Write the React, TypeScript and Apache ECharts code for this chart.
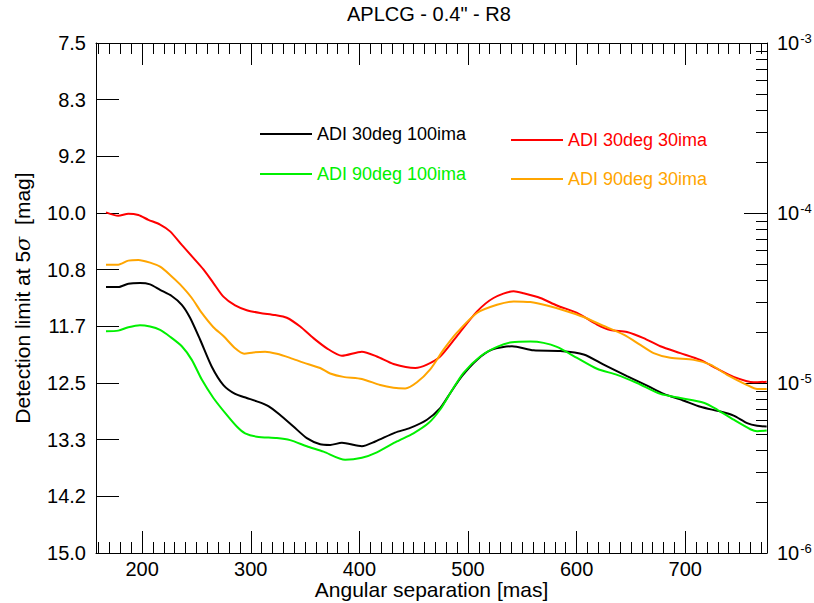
import React, { useEffect, useRef } from "react";
import * as echarts from "echarts";

const TITLE = 'APLCG - 0.4" - R8';
const X_NAME = "Angular separation [mas]";
const FONT = "'Liberation Sans', Arial, Helvetica, sans-serif";

const X_MIN = 157.5;
const X_MAX = 775.3;
const X_MAJOR_TICKS = [200, 300, 400, 500, 600, 700];
const X_MINOR_TICKS = Array.from({ length: 62 }, (_, i) => 160 + i * 10);

const MAG_MIN = 7.5;
const MAG_MAX = 15;
const MAG_TICKS = Array.from({ length: 10 }, (_, i) => MAG_MIN + (i * (MAG_MAX - MAG_MIN)) / 9);

// right axis: contrast 10^-3 ... 10^-6 (mag = -2.5 log10(contrast))
const CONTRAST_DECADES = [-3, -4, -5, -6];
const CONTRAST_MINOR_FACTORS = [2, 3, 4, 5, 6, 7, 8, 9];
const toMag = (c: number) => -2.5 * Math.log10(c);
const CONTRAST_MAJOR_MAGS = CONTRAST_DECADES.map((e) => toMag(Math.pow(10, e)));
const CONTRAST_MINOR_MAGS = [-4, -5, -6].flatMap((e) =>
  CONTRAST_MINOR_FACTORS.map((k) => toMag(k * Math.pow(10, e)))
);

const NAMES = ["ADI 30deg 100ima", "ADI 90deg 100ima", "ADI 30deg 30ima", "ADI 90deg 30ima"];
const COLORS = ["#000000", "#00f000", "#ff0000", "#ffa500"];

const BLACK_30DEG_100IMA: [number, number][] = [
  [166.7, 11.09], [178, 11.09], [187.3, 11.04], [198, 11.03], [207.3, 11.05], [216.5, 11.13],
  [227.2, 11.22], [236.5, 11.35], [244.1, 11.54], [253.3, 11.86], [264.1, 12.26], [274.8, 12.53],
  [285.6, 12.66], [296.3, 12.72], [305.6, 12.77], [316.2, 12.84], [327, 12.97], [339.3, 13.14],
  [351.6, 13.31], [363.9, 13.4], [373.1, 13.41], [383.9, 13.38], [402.3, 13.43], [414.6, 13.36],
  [432.9, 13.23], [446.8, 13.16], [462.2, 13.04], [474.4, 12.87], [483.6, 12.65], [494.4, 12.4],
  [508.2, 12.16], [522.1, 12.01], [540.5, 11.96], [560.4, 12.02], [585, 12.03], [606.5, 12.08],
  [624.9, 12.23], [646.4, 12.4], [664.9, 12.54], [680.2, 12.66], [697.1, 12.75], [714, 12.85],
  [732.4, 12.92], [744.6, 12.98], [757, 13.09], [766.2, 13.13], [775, 13.14],
];

const GREEN_90DEG_100IMA: [number, number][] = [
  [166.7, 11.74], [178, 11.73], [187.3, 11.68], [198, 11.65], [207.3, 11.67], [216.5, 11.72],
  [225.7, 11.82], [236.5, 11.96], [245.7, 12.16], [254.9, 12.45], [265.6, 12.72], [277.9, 12.97],
  [287.1, 13.14], [294.8, 13.24], [305.6, 13.29], [324, 13.31], [336.2, 13.34], [351.6, 13.43],
  [367, 13.51], [386.9, 13.63], [402.3, 13.6], [416.1, 13.52], [434.5, 13.36], [449.8, 13.24],
  [463.7, 13.09], [474.4, 12.89], [483.6, 12.65], [495.9, 12.35], [511.3, 12.11], [526.7, 11.97],
  [540.5, 11.9], [557.4, 11.89], [569.7, 11.91], [581.9, 11.97], [600.4, 12.13], [618.8, 12.29],
  [637.2, 12.38], [655.7, 12.5], [677.1, 12.66], [695.5, 12.72], [717, 12.79], [729.3, 12.89],
  [744.6, 13.04], [760, 13.18], [766.2, 13.21], [775, 13.2],
];

const RED_30DEG_30IMA: [number, number][] = [
  [166.7, 9.99], [178, 10.04], [187.3, 10.01], [196.5, 10.03], [205.7, 10.1], [216.5, 10.17],
  [225.7, 10.27], [236.5, 10.47], [247.1, 10.66], [256.4, 10.83], [265.6, 11.03], [274.8, 11.23],
  [285.6, 11.36], [296.3, 11.43], [308.6, 11.47], [322.4, 11.5], [333.2, 11.54], [345.5, 11.67],
  [357.7, 11.84], [370.1, 11.99], [383.9, 12.1], [402.3, 12.04], [416.1, 12.11], [431.4, 12.22],
  [451.4, 12.28], [462.2, 12.23], [474.4, 12.11], [489.8, 11.81], [508.2, 11.45], [523.5, 11.25],
  [542, 11.15], [551.2, 11.18], [566.6, 11.25], [581.9, 11.36], [600.4, 11.47], [618.8, 11.64],
  [631.1, 11.72], [646.4, 11.75], [661.7, 11.84], [677.1, 11.96], [695.5, 12.06], [713.9, 12.16],
  [729.3, 12.29], [744.6, 12.41], [763.1, 12.49], [775, 12.48],
];

const ORANGE_90DEG_30IMA: [number, number][] = [
  [166.7, 10.76], [178, 10.76], [187.3, 10.7], [196.5, 10.69], [207.3, 10.73], [216.5, 10.79],
  [225.7, 10.91], [234.9, 11.05], [245.7, 11.25], [254.9, 11.47], [265.6, 11.68], [274.8, 11.81],
  [285.6, 11.99], [293.9, 12.07], [302.4, 12.05], [313.2, 12.04], [324, 12.07], [336.2, 12.13],
  [348.5, 12.2], [363.9, 12.28], [373.1, 12.36], [385.3, 12.41], [402.3, 12.44], [419.2, 12.53],
  [431.4, 12.57], [442.2, 12.58], [453, 12.49], [465.2, 12.3], [477.5, 12.01], [489.8, 11.76],
  [508.2, 11.47], [526.7, 11.35], [542, 11.3], [557.4, 11.31], [572.7, 11.36], [588, 11.43],
  [606.5, 11.53], [621.8, 11.64], [643.3, 11.79], [658.7, 11.94], [670.9, 12.06], [686.3, 12.13],
  [707.8, 12.16], [723.2, 12.23], [738.6, 12.38], [757, 12.53], [766.2, 12.59], [775, 12.59],
];

const SERIES_DATA = [BLACK_30DEG_100IMA, GREEN_90DEG_100IMA, RED_30DEG_30IMA, ORANGE_90DEG_30IMA];

export default function App() {
  const ref = useRef<HTMLDivElement>(null);

  useEffect(() => {
    if (!ref.current) return;
    const chart = echarts.init(ref.current, undefined, { renderer: "svg" });
    const axisLine = { show: true, lineStyle: { color: "#000", width: 1 } };
    const xBase = { type: "value", min: X_MIN, max: X_MAX, splitLine: { show: false } };
    const yBase = { type: "value", min: MAG_MIN, max: MAG_MAX, inverse: true, splitLine: { show: false } };
    const legendPos = [
      { left: 260, top: 125 },
      { left: 260, top: 165 },
      { left: 511, top: 131 },
      { left: 511, top: 170 },
    ];

    chart.setOption({
      animation: false,
      backgroundColor: "#fff",
      textStyle: { fontFamily: FONT },
      title: {
        text: TITLE,
        left: 347,
        top: 4,
        padding: 0,
        textStyle: { fontFamily: FONT, fontSize: 20, fontWeight: "normal", color: "#000" },
      },
      legend: NAMES.map((n, i) => ({
        data: [n],
        ...legendPos[i],
        padding: 0,
        icon: "rect",
        itemWidth: 52,
        itemHeight: 2,
        selectedMode: false,
        textStyle: { fontFamily: FONT, fontSize: 18, color: COLORS[i] },
      })),
      grid: { left: 96, right: 47, top: 43, bottom: 50, containLabel: false, outerBoundsMode: "none" },
      xAxis: [
        {
          ...xBase,
          position: "bottom",
          axisLine,
          axisTick: { inside: true, length: 22, customValues: X_MAJOR_TICKS, lineStyle: { color: "#000" } },
          axisLabel: {
            customValues: X_MAJOR_TICKS,
            fontSize: 20,
            color: "#000",
            fontFamily: FONT,
            margin: 6,
          },
          name: X_NAME,
          nameLocation: "middle",
          nameGap: 25,
          nameMoveOverlap: false,
          nameTextStyle: { fontSize: 21, color: "#000", fontFamily: FONT, lineHeight: 23 },
        },
        {
          ...xBase,
          position: "bottom",
          axisLine: { show: false },
          axisTick: { inside: true, length: 11, customValues: X_MINOR_TICKS, lineStyle: { color: "#000" } },
          axisLabel: { show: false },
        },
        {
          ...xBase,
          position: "top",
          axisLine,
          axisTick: { inside: true, length: 22, customValues: X_MAJOR_TICKS, lineStyle: { color: "#000" } },
          axisLabel: { show: false },
        },
        {
          ...xBase,
          position: "top",
          axisLine: { show: false },
          axisTick: { inside: true, length: 11, customValues: X_MINOR_TICKS, lineStyle: { color: "#000" } },
          axisLabel: { show: false },
        },
      ],
      yAxis: [
        {
          ...yBase,
          position: "left",
          axisLine,
          axisTick: { inside: true, length: 23, customValues: MAG_TICKS, lineStyle: { color: "#000" } },
          axisLabel: {
            customValues: MAG_TICKS,
            formatter: (v: number) => v.toFixed(1),
            fontSize: 20,
            color: "#000",
            fontFamily: FONT,
            margin: 10,
          },
          name: "{a|Detection limit at 5}{i|σ}{a|  [mag]}",
          nameLocation: "middle",
          nameGap: 63,
          nameRotate: 90,
          nameMoveOverlap: false,
          nameTextStyle: {
            color: "#000",
            rich: {
              a: { fontSize: 21, fontFamily: FONT, color: "#000" },
              i: { fontSize: 21, fontFamily: "'DejaVu Serif', serif", fontStyle: "italic", color: "#000" },
            },
          },
        },
        {
          ...yBase,
          position: "right",
          axisLine,
          axisTick: { inside: true, length: 23, customValues: CONTRAST_MAJOR_MAGS, lineStyle: { color: "#000" } },
          axisLabel: {
            customValues: CONTRAST_MAJOR_MAGS,
            formatter: (v: number) => `{b|10}{s|-${Math.round(v / 2.5)}}`,
            margin: 10,
            rich: {
              b: { fontSize: 20, fontFamily: FONT, color: "#000", lineHeight: 22 },
              s: { fontSize: 13, fontFamily: FONT, color: "#000", verticalAlign: "top", lineHeight: 13, padding: [0, 0, 6, 1] },
            },
          },
        },
        {
          ...yBase,
          position: "right",
          axisLine: { show: false },
          axisTick: { inside: true, length: 11, customValues: CONTRAST_MINOR_MAGS, lineStyle: { color: "#000" } },
          axisLabel: { show: false },
        },
      ],
      series: NAMES.map((n, i) => ({
        name: n,
        type: "line",
        xAxisIndex: 0,
        yAxisIndex: 0,
        data: SERIES_DATA[i],
        showSymbol: false,
        symbol: "none",
        smooth: 0.25,
        color: COLORS[i],
        lineStyle: { color: COLORS[i], width: 2 },
        itemStyle: { color: COLORS[i] },
      })),
    });

    return () => chart.dispose();
  }, []);

  return <div ref={ref} style={{ width: 814, height: 603, position: "absolute", left: 0, top: 0 }} />;
}
